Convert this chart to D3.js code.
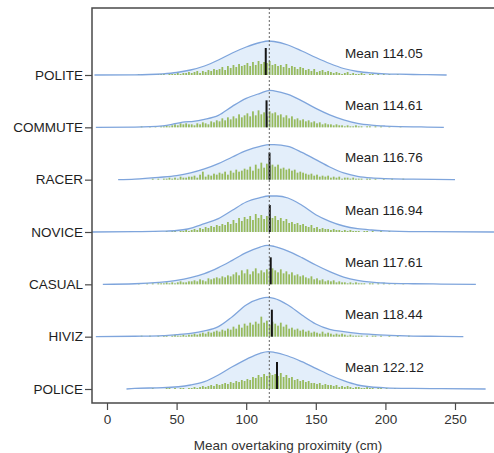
<!DOCTYPE html>
<html>
<head>
<meta charset="utf-8">
<script src="https://cdn.jsdelivr.net/npm/d3@7"></script>
<style>
  body { margin: 0; background: #fff; }
  text { font-family: "Liberation Sans", Arial, sans-serif; }
</style>
</head>
<body>
<div id="chart"></div>
<script>
// categories top to bottom
const categories = ["POLITE", "COMMUTE", "RACER", "NOVICE", "CASUAL", "HIVIZ", "POLICE"];
const means = [114.05, 114.61, 116.76, 116.94, 117.61, 118.44, 122.12];
const overallMean = 116.6;
const xTicks = [0, 50, 100, 150, 200, 250];

// density curves, [cm, height]
const densPolite = [[-9,0],[20,0.2],[30,0.5],[40,1.2],[50,2.5],[60,5],[70,9],[80,15],[90,22],[100,28],[110,32.5],[116,34],[120,33.5],[130,30],[140,24],[150,17.5],[160,11.5],[170,6.5],[180,3.5],[190,2],[200,1.2],[210,0.8],[220,0.5],[230,0.3],[244,0]];
const densCommute = [[-8,0],[20,0.3],[40,1.5],[50,4],[56,5.5],[62,6],[70,8],[80,12],[90,21],[100,29],[110,34],[117,37],[120,36.5],[130,33],[140,26.5],[150,19],[160,12.5],[170,7.5],[180,4],[190,2.2],[200,1.3],[210,0.8],[220,0.5],[230,0.3],[242,0]];
const densRacer = [[8,0],[20,0.6],[37,2.3],[50,4],[60,6.7],[70,10.7],[80,16],[90,22.7],[100,29],[110,33.3],[117,35],[120,35],[130,33.3],[140,27.3],[150,20],[160,12.7],[170,6.7],[180,3.3],[190,1.7],[200,1],[220,0.5],[250,0]];
const densNovice = [[-11,0],[20,0.3],[40,0.8],[50,1.5],[58,3],[70,8.3],[80,13.3],[90,21.7],[100,30],[110,34.3],[116,36],[122,36],[130,34],[140,26.7],[150,17.3],[160,10.7],[170,6],[180,3.3],[190,2],[200,1.2],[210,0.7],[230,0.3],[278,0]];
const densCasual = [[-3,0],[20,0.6],[37,2],[50,4],[60,6.7],[70,10.7],[80,16.7],[90,24],[100,31.7],[110,37.3],[115,39],[120,38],[130,33.3],[140,26.7],[150,19.3],[160,12.7],[170,7.3],[180,4],[190,2.2],[200,1.3],[220,0.6],[240,0.3],[265,0]];
const densHiviz = [[-8,0],[20,0.4],[40,1],[50,2],[60,3.3],[70,5.7],[80,10],[90,20],[100,31.7],[110,38],[115,39.3],[120,38.3],[130,31.7],[140,21.7],[150,12.7],[160,7.3],[170,5],[180,3.3],[190,2.3],[200,1.5],[210,1],[220,0.6],[240,0.3],[256,0]];
const densPolice = [[14,0],[20,0.7],[40,1.3],[60,4],[70,7.3],[80,14],[90,22.3],[100,29.7],[110,35.7],[116,37.3],[120,36.7],[130,33],[140,27.3],[150,20.7],[160,14],[170,8.3],[180,4],[190,2],[200,1.2],[220,0.6],[240,0.4],[272,0]];

// histogram counts, 2 cm bins starting at 20 cm
const histStart = 20, histBin = 2;
const histPolite = [0,1,0,0,1,0,1,0,1,1, 1,0,2,1,1,2,1,2,2,3, 2,3,4,2,4,3,5,4,6,5, 6,8,5,9,7,10,8,11,9,10, 12,9,13,10,14,11,13,12,14,10, 11,9,10,8,11,7,9,8,6,8, 7,5,6,4,6,3,4,5,3,4, 3,2,3,2,1,2,3,1,2,1, 1,2,1,0,1,1,0,1,0,1, 0,1,0,0,1,0,0,1,0,0];
const histCommute = [0,0,1,0,0,1,0,1,0,1, 1,2,1,2,3,2,4,3,4,3, 3,2,4,3,5,4,3,6,5,7, 6,9,7,10,8,11,9,13,10,12, 14,11,16,12,17,13,15,11,16,14, 15,12,13,10,12,9,11,8,9,7, 8,6,7,5,6,4,5,3,4,3, 3,2,3,2,2,1,2,1,1,2, 1,1,0,1,1,0,1,0,1,0, 0,1,0,0,0,1,0,0,0,0];
const histRacer = [0,0,0,0,0,0,1,0,1,0, 1,1,2,1,2,1,3,2,2,3, 3,4,2,5,8,3,5,4,6,5, 7,6,8,5,9,7,10,8,9,11, 10,13,9,15,11,17,12,16,14,15, 13,15,11,12,10,11,9,10,7,8, 7,6,5,6,4,5,3,4,3,4, 2,3,2,3,1,2,2,1,2,1, 1,1,0,1,1,0,1,0,0,1, 0,0,1,0,0,0,1,0,0,0];
const histNovice = [0,0,1,0,0,0,0,1,0,0, 0,1,0,1,1,0,1,1,2,1, 2,3,2,4,3,5,4,6,5,7, 6,8,7,10,8,12,9,14,11,15, 13,16,12,18,14,17,13,16,15,14, 16,12,14,11,13,9,10,8,9,7, 8,6,5,7,4,5,3,4,3,3, 2,3,2,2,1,2,1,2,1,1, 1,0,1,1,0,1,0,0,1,0, 0,1,0,0,0,0,1,0,0,0];
const histCasual = [0,1,0,0,1,0,1,0,1,1, 1,2,1,2,1,2,3,2,2,3, 3,4,3,5,4,3,6,5,6,7, 6,8,7,9,8,10,12,9,14,11, 15,10,13,16,11,14,12,15,13,16, 14,12,15,11,13,10,12,9,10,8, 9,7,6,8,5,6,4,5,3,4, 3,4,2,3,2,2,1,2,1,2, 1,1,1,0,1,1,0,1,0,1, 0,1,0,1,0,0,1,0,0,0];
const histHiviz = [0,0,1,0,0,1,0,0,1,0, 1,1,0,1,2,1,1,2,1,2, 2,3,2,3,4,3,5,4,5,6, 5,7,6,8,7,10,8,12,9,13, 11,14,12,15,13,20,14,16,12,15, 13,11,14,10,12,8,9,7,8,6, 7,5,6,4,5,4,3,5,3,4, 3,2,3,2,3,2,1,2,1,1, 1,1,0,1,0,1,1,0,1,0, 0,1,0,0,1,0,0,0,1,0];
const histPolice = [0,0,0,0,0,0,1,0,0,0, 0,1,1,0,1,0,1,1,0,1, 1,2,1,2,3,2,3,4,3,5, 4,5,6,5,7,6,8,7,9,8, 10,9,12,11,14,12,15,13,16,14, 15,13,16,12,14,11,12,9,10,8, 9,7,8,6,6,5,6,4,5,4, 4,3,4,2,3,2,3,2,1,2, 2,1,1,2,1,1,0,1,1,0, 1,0,0,1,0,0,1,0,0,1];

const densities = [densPolite, densCommute, densRacer, densNovice, densCasual, densHiviz, densPolice];
const hists = [histPolite, histCommute, histRacer, histNovice, histCasual, histHiviz, histPolice];

const W = 494, H = 453;
const plot = {left: 92, top: 8, right: 494, bottom: 403};

const svg = d3.select("#chart").append("svg")
  .attr("width", W).attr("height", H);

svg.append("defs").append("clipPath").attr("id", "clip")
  .append("rect")
    .attr("x", plot.left).attr("y", plot.top)
    .attr("width", plot.right - plot.left).attr("height", plot.bottom - plot.top);

const x = d3.scaleLinear().domain([0, 250]).range([107, 455]);
const y = d3.scalePoint().domain(categories).range([75, 389]);
const h = d3.scaleLinear().domain([0, 40]).range([0, 40]);

const g = svg.append("g").attr("clip-path", "url(#clip)");

categories.forEach((cat, i) => {
  const base = y(cat);
  const dens = densities[i];

  const area = d3.area()
    .x(d => x(d[0]))
    .y0(base)
    .y1(d => base - h(d[1]))
    .curve(d3.curveMonotoneX);
  const line = d3.line()
    .x(d => x(d[0]))
    .y(d => base - h(d[1]))
    .curve(d3.curveMonotoneX);

  g.append("path").datum(dens)
    .attr("d", area)
    .attr("fill", "#e3eefa");

  // histogram bars
  const bw = x(histBin) - x(0);
  g.append("g").selectAll("rect")
    .data(hists[i].map((c, j) => ({v: histStart + j * histBin, c})).filter(d => d.c > 0))
    .join("rect")
      .attr("x", d => x(d.v) + 0.3)
      .attr("y", d => base - h(d.c))
      .attr("width", bw - 1)
      .attr("height", d => h(d.c))
      .attr("fill", "#97ba5c");

  g.append("path").datum(dens)
    .attr("d", line)
    .attr("fill", "none")
    .attr("stroke", "#7fa5dc")
    .attr("stroke-width", 1.3);

  // mean marker
  g.append("line")
    .attr("x1", x(means[i])).attr("x2", x(means[i]))
    .attr("y1", base).attr("y2", base - 27)
    .attr("stroke", "#151515")
    .attr("stroke-width", 2);

  svg.append("text")
    .attr("x", 345)
    .attr("y", base - 17.5)
    .style("font-size", "13.5px")
    .attr("fill", "#1e1e1e")
    .text(`Mean ${means[i].toFixed(2)}`);
});

// overall mean
svg.append("line")
  .attr("x1", x(overallMean)).attr("x2", x(overallMean))
  .attr("y1", plot.top).attr("y2", plot.bottom)
  .attr("stroke", "#666")
  .attr("stroke-width", 1)
  .attr("stroke-dasharray", "2,2");

// frame
svg.append("path")
  .attr("d", `M${plot.right},${plot.top}H${plot.left}V${plot.bottom}H${plot.right}`)
  .attr("fill", "none")
  .attr("stroke", "#4a4a4a")
  .attr("stroke-width", 1.5);

// axes
const yAxis = svg.append("g")
  .attr("transform", `translate(${plot.left},0)`)
  .call(d3.axisLeft(y).tickSize(7).tickPadding(2));
yAxis.select(".domain").remove();
yAxis.selectAll("line").attr("stroke", "#4a4a4a").attr("stroke-width", 1.2);
yAxis.selectAll("text")
  .style("font-size", "13.5px")
  .style("font-family", '"Liberation Sans", Arial, sans-serif')
  .attr("fill", "#1e1e1e");

const xAxis = svg.append("g")
  .attr("transform", `translate(0,${plot.bottom})`)
  .call(d3.axisBottom(x).tickValues(xTicks).tickSize(7).tickPadding(4));
xAxis.select(".domain").remove();
xAxis.selectAll("line").attr("stroke", "#4a4a4a").attr("stroke-width", 1.2);
xAxis.selectAll("text")
  .style("font-size", "13.5px")
  .style("font-family", '"Liberation Sans", Arial, sans-serif')
  .attr("fill", "#333");

svg.append("text")
  .attr("x", 288)
  .attr("y", 450)
  .style("text-anchor", "middle")
  .style("font-size", "13.5px")
  .attr("fill", "#333")
  .text("Mean overtaking proximity (cm)");
</script>
</body>
</html>
